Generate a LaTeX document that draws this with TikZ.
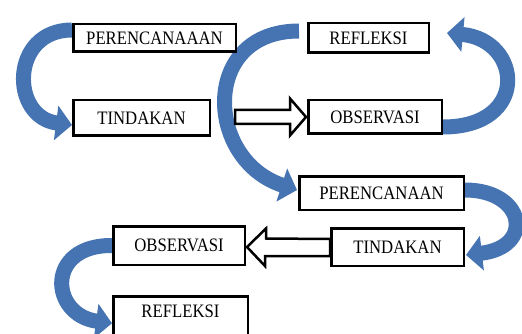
\documentclass[tikz,border=0pt]{standalone}
\usepackage{fontspec}
\setmainfont{Liberation Serif}[FakeStretch=0.88]
\usetikzlibrary{arrows.meta}
\definecolor{arrowblue}{RGB}{70,116,178}
\tikzset{
  box/.style={draw, line width=2.5pt, fill=white, inner sep=0pt, font=\fontsize{19}{22}\selectfont},
  bluearrow/.style={draw=arrowblue, line width=15pt, line cap=butt, -{Triangle[width=34pt,length=16pt]}},
  hollow/.style={draw=black, fill=white, line width=2.5pt, line join=miter}
}
\begin{document}
\begin{tikzpicture}[x=1pt,y=-1pt]
\useasboundingbox (0,0) rectangle (522,334);
\clip (0,0) rectangle (522,334);
% box anchors (boxes drawn later, on top of the curved arrows)
\path[box, draw=none, fill=none] node[minimum width=162.5pt, minimum height=27.5pt] (plan1) at (154.5,38) {}
  node[minimum width=136.5pt, minimum height=35.5pt] (act1) at (141.5,118) {}
  node[minimum width=120.5pt, minimum height=29.5pt] (ref1) at (368.5,38) {}
  node[minimum width=133.5pt, minimum height=33.5pt] (obs1) at (375,117) {}
  node[minimum width=164.5pt, minimum height=33.5pt] (plan2) at (381.5,193) {}
  node[minimum width=132.5pt, minimum height=37.5pt] (act2) at (397.5,247) {}
  node[minimum width=131.5pt, minimum height=38.5pt] (obs2) at (179,245.5) {};
\coordinate (refbtop) at (180.5,295.25);
% blue curved arrows
\draw[bluearrow] ([yshift=8pt]plan1.west) .. controls (10,30) and (10,117) .. ([yshift=-7pt]act1.west);
\draw[bluearrow] ([xshift=-8pt,yshift=7pt]ref1.west) .. controls (200,31) and (205,160) .. ([xshift=-1pt,yshift=3pt]plan2.west);
\draw[bluearrow] ([yshift=-10pt]obs1.east) .. controls (530,127) and (522,40) .. ([xshift=17pt,yshift=5pt]ref1.east);
\draw[bluearrow] ([yshift=3pt]plan2.east) .. controls (525,190) and (535,247) .. ([xshift=1pt,yshift=-8pt]act2.east);
\draw[bluearrow] (obs2.west) .. controls (45,245) and (50,315) .. ([yshift=-28pt]refbtop -| obs2.west);
% boxes
\node[box, minimum width=162.5pt, minimum height=27.5pt] at (plan1) {PERENCANAAAN};
\node[box, minimum width=136.5pt, minimum height=35.5pt] at (act1) {TINDAKAN};
\node[box, minimum width=120.5pt, minimum height=29.5pt] at (ref1) {REFLEKSI};
\node[box, minimum width=133.5pt, minimum height=33.5pt] at (obs1) {OBSERVASI};
\node[box, minimum width=164.5pt, minimum height=33.5pt] at (plan2) {PERENCANAAN};
\node[box, minimum width=132.5pt, minimum height=37.5pt] at (act2) {TINDAKAN};
\node[box, minimum width=131.5pt, minimum height=38.5pt] at (obs2) {OBSERVASI};
\node[box, anchor=north, minimum width=134.5pt, inner ysep=8.5pt, text depth=40pt] (ref2) at (refbtop) {REFLEKSI};
% hollow block arrows
\draw[hollow] ([xshift=-1pt]obs1.west) -- ++(-16,-18.5) -- ++(0,11.5) -- ++(-55,0) -- ++(0,14) -- ++(55,0) -- ++(0,11.5) -- cycle;
\draw[hollow] ([xshift=1pt,yshift=-1.5pt]obs2.east) -- ++(19,-18.5) -- ++(0,10) -- (act2.west |- 0,239) -- (act2.west |- 0,256) -- ++(-65,0) -- ++(0,10) -- cycle;
\end{tikzpicture}
\end{document}
